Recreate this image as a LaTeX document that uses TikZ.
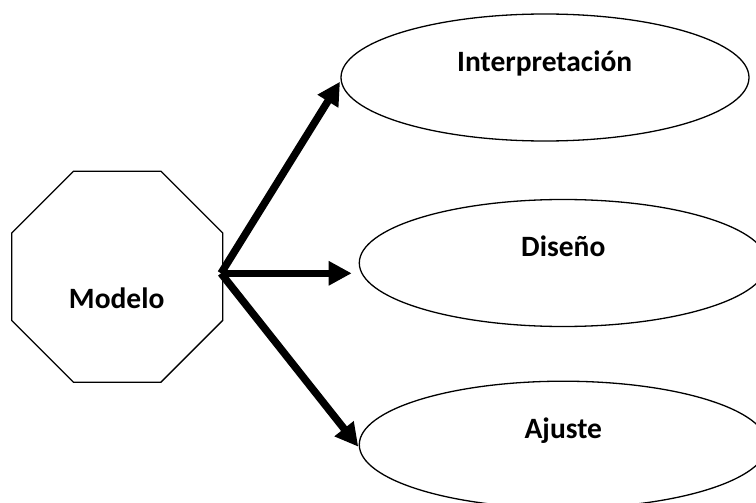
\documentclass[tikz,border=0pt]{standalone}
\usepackage{fontspec}
\setmainfont{Carlito}
\usetikzlibrary{shapes.geometric,arrows.meta}
\begin{document}
\begin{tikzpicture}[x=1pt,y=-1pt,
  shapeline/.style={draw=black,line width=1.3pt,fill=white,inner sep=0pt,outer sep=0pt},
  oval/.style={shapeline,ellipse,minimum width=408pt,minimum height=127pt},
  lbl/.style={font=\fontsize{29.5}{35}\selectfont\bfseries,anchor=base,inner sep=0pt},
  bigarrow/.style={line width=7.5pt,-{Triangle[length=23pt,width=23pt]}}]
\useasboundingbox (0,0) rectangle (756,503);
\clip (0,0) rectangle (756,503);
\node[shapeline,regular polygon,regular polygon sides=8,minimum size=228.4pt] (M) at (117.2,276.7) {};
\node[oval] (I) at (545,77.5) {};
\node[oval] (D) at (563.3,263) {};
\node[oval] (A) at (563.3,444.7) {};
\node[lbl] (tM) at (116.7,308.3) {Modelo};
\node[lbl] (tI) at (544.7,71.7) {Interpretación};
\node[lbl] (tD) at (563.3,256.7) {Diseño};
\node[lbl] (tA) at (563.3,438.3) {Ajuste};
\coordinate (J) at (221,273.3);
\coordinate (tipI) at (340,81.7);
\coordinate (tipD) at (351.7,273.3);
\coordinate (tipA) at (358.3,446.7);
\draw[bigarrow] (J) -- (tipI);
\draw[bigarrow] (J) -- (tipD);
\draw[bigarrow] (J) -- (tipA);
\end{tikzpicture}
\end{document}
